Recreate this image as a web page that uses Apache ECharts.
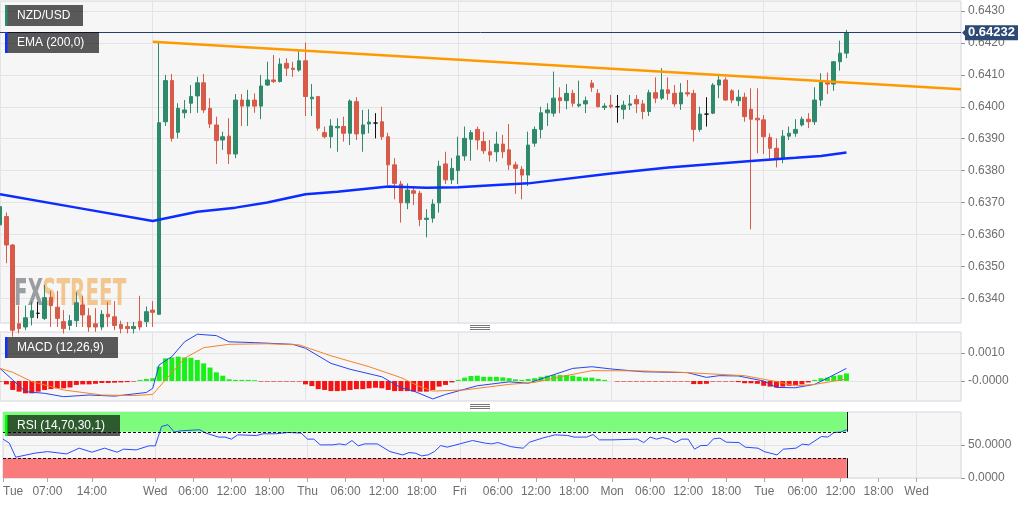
<!DOCTYPE html>
<html>
<head>
<meta charset="utf-8">
<script src="https://cdn.jsdelivr.net/npm/echarts@6/dist/echarts.min.js"></script>
<style>
  html, body { margin: 0; padding: 0; background: #fff; }
  #chart { width: 1032px; height: 505px; }
</style>
</head>
<body>
<div id="chart"></div>
<script>
// hourly slots from Tue 00:00 (weekend squeezed out), 0..151
const slotCount = 152;
const tickIdx = [0, 7, 14, 24, 30, 36, 42, 48, 54, 60, 66, 72, 78, 84, 90, 96, 102, 108, 114, 120, 126, 132, 138, 144];
const tickText = ['Tue', '07:00', '14:00', 'Wed', '06:00', '12:00', '18:00', 'Thu', '06:00', '12:00', '18:00',
  'Fri', '06:00', '12:00', '18:00', 'Mon', '06:00', '12:00', '18:00', 'Tue', '06:00', '12:00', '18:00', 'Wed'];
const dayIdx = [0, 24, 48, 72, 96, 120, 144];

const priceTicks = [0.634, 0.635, 0.636, 0.637, 0.638, 0.639, 0.640, 0.641, 0.642, 0.643];
const macdTicks = [0, 0.001];
const rsiTicks = [0, 50];
const lastPrice = 0.64232;

// [open, close, low, high]
const candles = [
  [0.63630, 0.63687, 0.63611, 0.63692], [0.63656, 0.63567, 0.63510, 0.63669], [0.63567, 0.63300, 0.63280, 0.63570],
  [0.63320, 0.63305, 0.63290, 0.63377], [0.63310, 0.63339, 0.63300, 0.63377], [0.63340, 0.63361, 0.63315, 0.63389],
  [0.63353, 0.63353, 0.63337, 0.63389], [0.63337, 0.63402, 0.63332, 0.63442], [0.63403, 0.63377, 0.63310, 0.63423],
  [0.63372, 0.63337, 0.63310, 0.63423], [0.63327, 0.63305, 0.63290, 0.63363], [0.63315, 0.63330, 0.63300, 0.63348],
  [0.63330, 0.63386, 0.63310, 0.63419], [0.63379, 0.63348, 0.63310, 0.63408], [0.63345, 0.63310, 0.63295, 0.63369],
  [0.63320, 0.63310, 0.63295, 0.63369], [0.63310, 0.63350, 0.63300, 0.63363], [0.63350, 0.63342, 0.63310, 0.63389],
  [0.63342, 0.63315, 0.63300, 0.63391], [0.63318, 0.63305, 0.63290, 0.63330], [0.63312, 0.63305, 0.63290, 0.63326],
  [0.63305, 0.63312, 0.63290, 0.63326], [0.63328, 0.63310, 0.63300, 0.63408], [0.63327, 0.63358, 0.63310, 0.63374],
  [0.63363, 0.63356, 0.63310, 0.63391], [0.63350, 0.63950, 0.63348, 0.64204], [0.63953, 0.64082, 0.63940, 0.64100],
  [0.64082, 0.63901, 0.63891, 0.64103], [0.63920, 0.63995, 0.63901, 0.64011], [0.63981, 0.63990, 0.63964, 0.64021],
  [0.64011, 0.64032, 0.63980, 0.64068], [0.64034, 0.64075, 0.63981, 0.64094], [0.64075, 0.63990, 0.63980, 0.64103],
  [0.63995, 0.63946, 0.63933, 0.64027], [0.63943, 0.63894, 0.63821, 0.63969], [0.63896, 0.63906, 0.63865, 0.63922],
  [0.63908, 0.63852, 0.63821, 0.63964], [0.63852, 0.64021, 0.63839, 0.64040], [0.64021, 0.64002, 0.63940, 0.64040],
  [0.64002, 0.64021, 0.63940, 0.64053], [0.64021, 0.64002, 0.63981, 0.64042], [0.64002, 0.64065, 0.63961, 0.64100],
  [0.64068, 0.64084, 0.64065, 0.64141], [0.64084, 0.64079, 0.64074, 0.64162], [0.64079, 0.64134, 0.64076, 0.64152],
  [0.64136, 0.64121, 0.64096, 0.64152], [0.64121, 0.64117, 0.64094, 0.64141], [0.64115, 0.64144, 0.64110, 0.64178],
  [0.64144, 0.64032, 0.63971, 0.64201], [0.64025, 0.64030, 0.63971, 0.64071], [0.64032, 0.63933, 0.63925, 0.64034],
  [0.63919, 0.63906, 0.63901, 0.63938], [0.63906, 0.63940, 0.63870, 0.63961], [0.63934, 0.63938, 0.63859, 0.63964],
  [0.63938, 0.63917, 0.63891, 0.63969], [0.63917, 0.64018, 0.63880, 0.64023], [0.64016, 0.63915, 0.63896, 0.64030],
  [0.63915, 0.63943, 0.63859, 0.63990], [0.63946, 0.63952, 0.63917, 0.63992], [0.63949, 0.63949, 0.63901, 0.63980],
  [0.63953, 0.63906, 0.63896, 0.64000], [0.63906, 0.63818, 0.63755, 0.63919], [0.63818, 0.63760, 0.63710, 0.63839],
  [0.63758, 0.63699, 0.63637, 0.63768], [0.63699, 0.63739, 0.63679, 0.63760], [0.63737, 0.63729, 0.63692, 0.63750],
  [0.63729, 0.63647, 0.63626, 0.63737], [0.63647, 0.63651, 0.63591, 0.63679], [0.63651, 0.63695, 0.63637, 0.63710],
  [0.63699, 0.63814, 0.63668, 0.63831], [0.63821, 0.63771, 0.63758, 0.63859], [0.63771, 0.63807, 0.63758, 0.63839],
  [0.63800, 0.63846, 0.63758, 0.63906], [0.63846, 0.63901, 0.63831, 0.63938], [0.63898, 0.63919, 0.63831, 0.63927],
  [0.63929, 0.63896, 0.63865, 0.63938], [0.63891, 0.63862, 0.63852, 0.63922], [0.63859, 0.63849, 0.63828, 0.63896],
  [0.63859, 0.63883, 0.63828, 0.63922], [0.63883, 0.63859, 0.63839, 0.63912], [0.63865, 0.63818, 0.63802, 0.63946],
  [0.63818, 0.63807, 0.63727, 0.63828], [0.63804, 0.63786, 0.63710, 0.63814], [0.63786, 0.63880, 0.63752, 0.63922],
  [0.63886, 0.63929, 0.63875, 0.63938], [0.63929, 0.63981, 0.63901, 0.64000], [0.63981, 0.63990, 0.63940, 0.64011],
  [0.63980, 0.64027, 0.63969, 0.64110], [0.64028, 0.64019, 0.63980, 0.64061], [0.64019, 0.64042, 0.63992, 0.64071],
  [0.64042, 0.64011, 0.64000, 0.64053], [0.64003, 0.64008, 0.63998, 0.64082], [0.64009, 0.64019, 0.63980, 0.64032],
  [0.64074, 0.64061, 0.64047, 0.64084], [0.64042, 0.64000, 0.63998, 0.64055], [0.63998, 0.64002, 0.63990, 0.64011],
  [0.64005, 0.64000, 0.63995, 0.64037], [0.64000, 0.64000, 0.63950, 0.64037], [0.63992, 0.64005, 0.63961, 0.64019],
  [0.64005, 0.64009, 0.63990, 0.64037], [0.64023, 0.64009, 0.63980, 0.64037], [0.64009, 0.63985, 0.63961, 0.64021],
  [0.63985, 0.64044, 0.63971, 0.64053], [0.64044, 0.64027, 0.64011, 0.64092], [0.64027, 0.64053, 0.64021, 0.64121],
  [0.64053, 0.64042, 0.64021, 0.64092], [0.64042, 0.64009, 0.64000, 0.64068], [0.64009, 0.64044, 0.63990, 0.64074],
  [0.64044, 0.64040, 0.64032, 0.64084], [0.64042, 0.63929, 0.63891, 0.64053], [0.63929, 0.63977, 0.63922, 0.64000],
  [0.63977, 0.63977, 0.63938, 0.64030], [0.63980, 0.64068, 0.63977, 0.64074], [0.64068, 0.64084, 0.64027, 0.64103],
  [0.64084, 0.64021, 0.64019, 0.64092], [0.64050, 0.64021, 0.64011, 0.64055], [0.64019, 0.64030, 0.64002, 0.64053],
  [0.64030, 0.63969, 0.63953, 0.64044], [0.63992, 0.63961, 0.63616, 0.64058], [0.63964, 0.63959, 0.63854, 0.64058],
  [0.63959, 0.63906, 0.63852, 0.63974], [0.63904, 0.63870, 0.63833, 0.63917], [0.63870, 0.63839, 0.63810, 0.63901],
  [0.63839, 0.63908, 0.63823, 0.63927], [0.63908, 0.63917, 0.63896, 0.63938], [0.63917, 0.63929, 0.63906, 0.63961],
  [0.63943, 0.63961, 0.63938, 0.63969], [0.63961, 0.63953, 0.63933, 0.63980], [0.63953, 0.64021, 0.63943, 0.64061],
  [0.64021, 0.64079, 0.64002, 0.64105], [0.64075, 0.64071, 0.64040, 0.64107], [0.64071, 0.64141, 0.64050, 0.64143],
  [0.64141, 0.64168, 0.64113, 0.64207], [0.64168, 0.64232, 0.64152, 0.64241]
];

// EMA(200), [slot, value]
const emaPts = [[0, 0.63726], [12, 0.63684], [24, 0.63642], [31, 0.63671], [37, 0.63684], [42, 0.63700],
  [48, 0.63726], [53, 0.63734], [61, 0.63750], [67, 0.63746], [72, 0.63748], [78, 0.63755], [83, 0.63760],
  [96, 0.63791], [105, 0.63810], [118, 0.63830], [125, 0.63840], [129, 0.63846], [133, 0.63857]];

// hand drawn resistance line
const trendPts = [[24, 0.64204], [151, 0.64055]];

const macdPts = [[0, 0.00045], [2, 0.00004], [4, -0.00038], [7, -0.00044], [10, -0.00056], [14, -0.0005],
  [18, -0.00054], [23, -0.00041], [24, -0.00026], [25, 0.00057], [27, 0.00087], [29, 0.0014], [31, 0.00167],
  [34, 0.00162], [36, 0.0014], [40, 0.00137], [46, 0.00131], [48, 0.00117], [52, 0.00063], [55, 0.00042],
  [60, 0.00015], [63, -0.00024], [65, -0.00036], [68, -0.00064], [70, -0.00048], [75, -0.00017], [80, -0.00003],
  [83, -0.00008], [86, 0.00015], [90, 0.00045], [93, 0.00051], [96, 0.00043], [101, 0.00033], [108, 0.0003],
  [111, 0.00013], [113, 0.00019], [116, 0.00018], [120, 0], [122, -0.00023], [125, -0.00024], [128, -0.00012],
  [130, 0.0001], [133, 0.00045]];

const signalPts = [[0, 0.00045], [2, 0.00031], [5, -0.00002], [10, -0.00032], [16, -0.0005], [21, -0.00052],
  [24, -0.00048], [26, 0.00004], [29, 0.00081], [32, 0.00119], [36, 0.00131], [42, 0.00133], [47, 0.00129],
  [52, 0.0009], [58, 0.00051], [63, 0.00012], [66, -0.0002], [68, -0.00036], [73, -0.00032], [80, -0.00012],
  [84, -0.00005], [88, 0.00015], [93, 0.00037], [101, 0.00036], [108, 0.0003], [117, 0.00019], [122, -0.00002],
  [125, -0.00017], [128, -0.00012], [133, 0.00007]];

const histVals = [
  -0.00002, -0.00012, -0.00032, -0.00038, -0.00044, -0.00044, -0.00038, -0.00032, -0.00029, -0.00026, // 0
  -0.00026, -0.00023, -0.00014, -0.00012, -0.00012, -0.0001, -0.00007, -0.00007, -0.00006, -0.00005,   // 10
  -0.00004, -0.00002, 0.00004, 0.00007, 0.0001, 0.00051, 0.00081, 0.00084, 0.00087, 0.00084,          // 20
  0.00083, 0.00075, 0.00063, 0.00048, 0.00031, 0.00019, 0.00006, 0.00004, 0.00004, 0.00004,           // 30
  0.00003, -0.00002, -0.00002, -0.00002, -0.00002, -0.00002, -0.00002, -0.00002, -0.00012, -0.00018,  // 40
  -0.00029, -0.00032, -0.00036, -0.00036, -0.00035, -0.00032, -0.00029, -0.00029, -0.00026, -0.00024, // 50
  -0.00026, -0.00032, -0.00036, -0.00036, -0.00036, -0.00038, -0.00038, -0.00038, -0.00032, -0.0002,  // 60
  -0.00014, -0.00005, 0.00004, 0.00012, 0.00018, 0.00019, 0.00015, 0.00015, 0.00015, 0.00013,         // 70
  0.0001, 0.00006, 0.00004, 0.00007, 0.0001, 0.00015, 0.00019, 0.00021, 0.00021, 0.00021,             // 80
  0.00019, 0.00015, 0.00012, 0.00012, 0.00007, 0.00004, 0, -0.00002, -0.00002, -0.00002,              // 90
  -0.00002, -0.00002, -0.00002, -0.00002, -0.00002, -0.00002, -0.00002, -0.00002, -0.00002, -0.00011, // 100
  -0.00011, -0.0001, -0.00002, -0.00002, -0.00002, -0.00002, -0.00004, -0.00008, -0.00008, -0.0001,   // 110
  -0.00017, -0.0002, -0.00023, -0.0002, -0.00017, -0.00014, -0.00012, -0.00005, 0.00004, 0.0001,      // 120
  0.00012, 0.00019, 0.00021, 0.00027                                                                  // 130
];

const rsiPts = [[0, 58.9], [1, 52.8], [2, 31.5], [5, 37.6], [7, 40], [10, 36.5], [12, 45.2], [14, 39.1],
  [16, 45.2], [18, 39.1], [19, 43.7], [21, 42.6], [23, 48.7], [24, 48.7], [25, 78.1], [26, 80.7], [27, 69.6],
  [28, 71.5], [31, 73.1], [32, 68], [34, 62], [35, 62], [36, 58.9], [37, 65.4], [40, 64.4], [41, 67], [43, 67],
  [45, 69], [47, 68], [48, 58.9], [49, 58.9], [50, 50.2], [52, 50.2], [53, 51.7], [54, 50.2], [55, 56.8],
  [56, 48.7], [57, 51.7], [59, 51.7], [61, 40], [63, 35], [64, 38.5], [65, 37.6], [66, 33.5], [67, 35], [68, 40],
  [69, 49.2], [70, 46.7], [72, 51.7], [74, 56.8], [76, 52.8], [77, 51.7], [78, 53.7], [80, 47.6], [81, 46.1],
  [82, 45.2], [83, 54.3], [85, 60.4], [86, 62.9], [87, 65.4], [89, 64.4], [90, 62], [92, 62], [93, 65.9],
  [94, 57.8], [96, 57.8], [100, 58.9], [101, 53.7], [102, 62], [103, 58.9], [104, 61.4], [105, 58.9], [106, 53.7],
  [107, 58.9], [108, 58.9], [109, 43.7], [110, 49.2], [111, 49.2], [112, 59.4], [113, 60.4], [114, 54.3],
  [116, 53.7], [117, 46.7], [119, 45.2], [120, 40], [122, 35], [123, 43.7], [125, 45.2], [126, 51.3], [127, 50.2],
  [129, 62.9], [130, 62], [131, 69], [132, 69.6], [133, 73.1]];
const rsiUpper = 70;
const rsiLower = 30;

const slots = [];
for (let i = 0; i < slotCount; i++) slots.push(String(i));
const lastSlot = candles.length - 1;

const FONT = 'Liberation Sans, Arial, sans-serif';
const gridLine = '#e4e4e4';
const plotBorder = '#d3d6e2';

function xAxisFor(gridIndex, showLabels) {
  return {
    type: 'category', gridIndex: gridIndex, data: slots, boundaryGap: false,
    axisLine: {show: false},
    axisTick: {
      show: showLabels, length: 4, lineStyle: {color: '#aaa'},
      interval: (i) => tickIdx.indexOf(i) >= 0
    },
    axisLabel: {
      show: showLabels, color: '#6e6e6e', fontSize: 12, fontFamily: FONT, margin: 8,
      alignMinLabel: 'left',
      interval: (i) => tickIdx.indexOf(i) >= 0,
      formatter: (v, i) => tickText[tickIdx.indexOf(i)] || ''
    },
    splitLine: {show: true, lineStyle: {color: gridLine}, interval: (i) => dayIdx.indexOf(i) >= 0}
  };
}

function yAxisFor(gridIndex, min, max, ticks, fmt) {
  return {
    type: 'value', gridIndex: gridIndex, position: 'right', min: min, max: max,
    axisLine: {show: false},
    axisTick: {show: true, length: 4, lineStyle: {color: '#999'}, customValues: ticks},
    axisLabel: {color: '#6e6e6e', fontSize: 12, fontFamily: FONT, margin: 7, customValues: ticks, formatter: fmt},
    splitLine: {show: true, lineStyle: {color: gridLine}, customValues: ticks}
  };
}

function labelBox(id, y, w, text, accent) {
  return [
    {id: id + 'Bg', type: 'rect', z: 10, shape: {x: 5, y: y, width: w, height: 21}, style: {fill: 'rgba(0,0,0,0.64)'}},
    {id: id + 'Acc', type: 'rect', z: 11, shape: {x: 5, y: y, width: 2.5, height: 21}, style: {fill: accent}},
    {id: id + 'Tx', type: 'text', z: 11, x: 17, y: y + 10.5,
      style: {text: text, fill: '#fff', font: '12px ' + FONT, verticalAlign: 'middle'}}
  ];
}

function sepIcon(id, y) {
  const out = [];
  [0, 2, 4].forEach((d, k) => out.push({
    id: id + k, type: 'line', z: 10,
    shape: {x1: 470, y1: y + d, x2: 490, y2: y + d}, style: {stroke: '#777', lineWidth: 1}
  }));
  return out;
}

const chart = echarts.init(document.getElementById('chart'), null, {renderer: 'canvas'});

const bandEdge = {color: '#111', width: 1, type: [3, 2]};
const bandSide = {color: '#111', width: 1, type: 'solid'};

const option = {
  animation: false,
  backgroundColor: '#fff',
  grid: [
    {left: 0, right: 71, top: 1, height: 322, show: true, backgroundColor: '#f6f6f6', borderColor: plotBorder, borderWidth: 1},
    {left: 0, right: 71, top: 332, height: 69, show: true, backgroundColor: '#f6f6f6', borderColor: plotBorder, borderWidth: 1},
    {left: 0, right: 71, top: 412, height: 66, show: true, backgroundColor: '#f6f6f6', borderColor: plotBorder, borderWidth: 1}
  ],
  xAxis: [xAxisFor(0, false), xAxisFor(1, false), xAxisFor(2, true)],
  yAxis: [
    yAxisFor(0, 0.633226, 0.643313, priceTicks, (v) => v.toFixed(4)),
    yAxisFor(1, -0.000714, 0.00175, macdTicks, (v) => (v === 0 ? '-0.0000' : v.toFixed(4))),
    yAxisFor(2, 0, 100, rsiTicks, (v) => v.toFixed(4))
  ],
  graphic: [
    {id: 'wmFx', type: 'text', z: 1, x: 14, y: 277, scaleX: 0.6,
      style: {text: 'FX', fill: 'rgba(140,140,148,0.85)', font: 'bold 37px "DejaVu Sans Condensed", "DejaVu Sans"'}},
    {id: 'wmStreet', type: 'text', z: 1, x: 42, y: 277, scaleX: 0.6,
      style: {text: 'STREET', fill: 'rgba(240,180,100,0.7)', font: 'bold 37px "DejaVu Sans Condensed", "DejaVu Sans"'}}
  ].concat(
    labelBox('pair', 5, 78, 'NZD/USD', '#2f8a6b'),
    labelBox('ema', 32, 94, 'EMA (200,0)', '#1030ff'),
    labelBox('macd', 337, 113, 'MACD (12,26,9)', '#1030ff'),
    labelBox('rsi', 415, 115, 'RSI (14,70,30,1)', '#00ff00'),
    sepIcon('sepA', 325.5),
    sepIcon('sepB', 404.5)
  ),
  series: [
    {
      name: 'NZD/USD', type: 'candlestick', xAxisIndex: 0, yAxisIndex: 0, data: candles,
      barWidth: 4, z: 3,
      itemStyle: {
        color: '#2f8a6b', color0: '#d85a48', borderColor: '#2f8a6b', borderColor0: '#d85a48',
        borderColorDoji: '#111', borderWidth: 1
      }
    },
    {
      name: 'EMA', type: 'line', xAxisIndex: 0, yAxisIndex: 0, data: emaPts, z: 4,
      showSymbol: false, lineStyle: {color: '#0b2dff', width: 2.5}
    },
    {
      name: 'Trend', type: 'line', xAxisIndex: 0, yAxisIndex: 0, data: trendPts, z: 4,
      showSymbol: false, lineStyle: {color: '#ff9900', width: 2.5},
      markLine: {
        silent: true, symbol: ['none', 'none'], precision: 5,
        lineStyle: {color: '#24416b', width: 1, type: 'solid'},
        label: {
          position: 'end', distance: 4, formatter: lastPrice.toFixed(5),
          backgroundColor: '#2c4a73', color: '#fff', fontWeight: 'bold', fontSize: 13,
          fontFamily: FONT, padding: [1, 3, 1, 3]
        },
        data: [{yAxis: lastPrice}]
      }
    },
    {
      name: 'Hist', type: 'bar', xAxisIndex: 1, yAxisIndex: 1, data: histVals, barWidth: 5,
      itemStyle: {color: (p) => (p.value >= 0 ? '#18f018' : '#f41414')}
    },
    {
      name: 'MACD', type: 'line', xAxisIndex: 1, yAxisIndex: 1, data: macdPts, z: 4,
      showSymbol: false, lineStyle: {color: '#2545f0', width: 1}
    },
    {
      name: 'Signal', type: 'line', xAxisIndex: 1, yAxisIndex: 1, data: signalPts, z: 4,
      showSymbol: false, lineStyle: {color: '#f5822a', width: 1}
    },
    {
      name: 'RSI', type: 'line', xAxisIndex: 2, yAxisIndex: 2, data: rsiPts, z: 4,
      showSymbol: false, lineStyle: {color: '#2a4cff', width: 1},
      markArea: {
        silent: true,
        data: [
          [{xAxis: 0, yAxis: rsiUpper, itemStyle: {color: '#7dfb7d'}}, {xAxis: lastSlot, yAxis: 100}],
          [{xAxis: 0, yAxis: 0, itemStyle: {color: '#f97b7b'}}, {xAxis: lastSlot, yAxis: rsiLower}]
        ],
        itemStyle: {opacity: 1, borderWidth: 0}
      },
      markLine: {
        silent: true, symbol: ['none', 'none'], label: {show: false},
        data: [
          [{coord: [0, rsiUpper]}, {coord: [lastSlot, rsiUpper]}],
          [{coord: [0, rsiLower]}, {coord: [lastSlot, rsiLower]}],
          [{coord: [lastSlot, rsiUpper], lineStyle: bandSide}, {coord: [lastSlot, 100]}],
          [{coord: [lastSlot, 0], lineStyle: bandSide}, {coord: [lastSlot, rsiLower]}]
        ],
        lineStyle: bandEdge
      }
    }
  ]
};

chart.setOption(option);

// little pointer on the last price tag
const py = chart.convertToPixel({yAxisIndex: 0}, lastPrice);
const pxRight = chart.convertToPixel({xAxisIndex: 0}, slotCount - 1);
chart.setOption({
  graphic: [{
    id: 'priceTip', type: 'polygon', z: 20,
    shape: {points: [[pxRight + 1, py], [pxRight + 5, py - 4], [pxRight + 5, py + 4]]},
    style: {fill: '#2c4a73'}
  }]
});
</script>
</body>
</html>
